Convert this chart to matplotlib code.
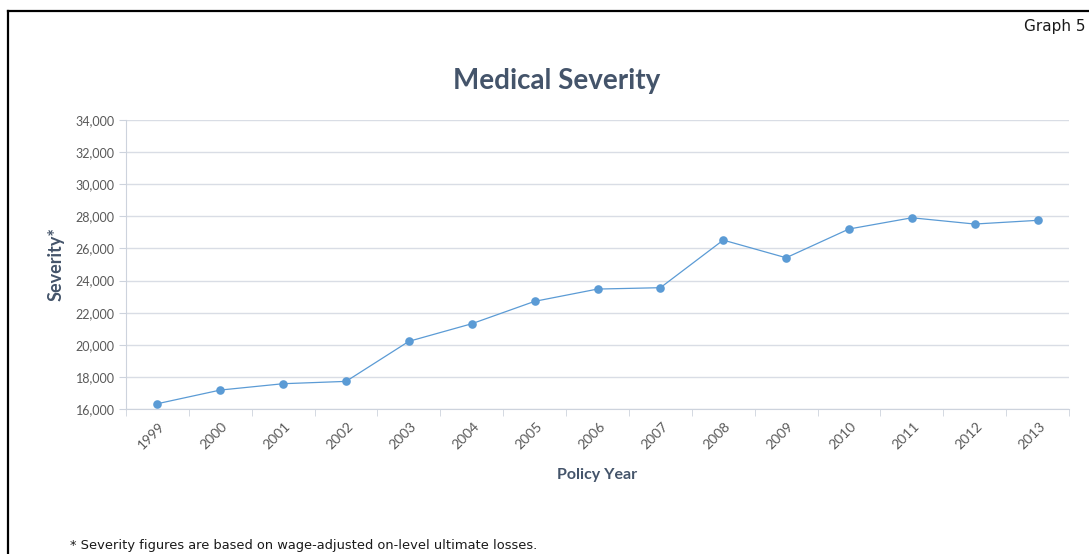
import numpy as np
import matplotlib.pyplot as plt
import matplotlib.transforms as mtransforms
from matplotlib.lines import Line2D

#%% data
years = ['1999', '2000', '2001', '2002', '2003', '2004', '2005', '2006',
         '2007', '2008', '2009', '2010', '2011', '2012', '2013']
severity = [16330, 17180, 17575, 17720, 20215, 21310, 22705, 23470,
            23555, 26520, 25420, 27210, 27910, 27520, 27750]
yticks = [16000, 18000, 20000, 22000, 24000, 26000, 28000, 30000, 32000, 34000]

#%% styling
lineBlue = '#5B9BD5'
textDark = '#44546A'
tickText = '#595959'
gridCol = '#D9DDE5'
axisCol = '#CDD3DD'

plt.rcParams['font.family'] = ['Lato', 'DejaVu Sans']

fig = plt.figure(figsize=(10.89, 5.54), dpi=100)
ax = fig.add_axes([126/1089, 1 - 409/554, (1069-126)/1089, (409-120)/554])

x = np.arange(len(years))
ax.plot(x, severity, color=lineBlue, lw=0.9, marker='o', ms=6.2,
        markeredgewidth=0, zorder=3)

ax.set_xlim(-0.5, len(years) - 0.5)
ax.set_ylim(16000, 34000)
ax.set_yticks(yticks)
ax.set_yticklabels([f'{v:,}' for v in yticks], fontsize=9, color=tickText)
ax.set_xticks(x)
ax.set_xticklabels(years, rotation=45, fontsize=10, color=tickText,
                   ha='center', va='top')
ax.tick_params(axis='x', length=0, pad=8)
ax.tick_params(axis='y', length=5, color=axisCol, pad=3)

# nudge the rotated year labels a little left
shift = mtransforms.ScaledTranslation(-6/100, 0, fig.dpi_scale_trans)
for lab in ax.get_xticklabels():
    lab.set_transform(lab.get_transform() + shift)

# tick marks between categories on the x axis
ax.set_xticks(np.arange(-0.5, len(years)), minor=True)
ax.tick_params(axis='x', which='minor', length=5, color=axisCol)

ax.grid(axis='y', color=gridCol, lw=1)
ax.set_axisbelow(True)
for side in ['top', 'right']:
    ax.spines[side].set_visible(False)
ax.spines['left'].set_color(axisCol)
ax.spines['bottom'].set_color(axisCol)

ax.set_ylabel('Severity*', fontsize=13, fontweight='bold', color=textDark,
              labelpad=8)
ax.set_xlabel('Policy Year', fontsize=11.5, fontweight='bold', color=textDark,
              labelpad=12)

fig.text(557/1089, 1 - 81/554, 'Medical Severity', fontsize=20,
         fontweight='bold', color=textDark, ha='center', va='center')
fig.text(1085/1089, 1 - 27/554, 'Graph 5', fontsize=11, color='#1a1a1a',
         family='DejaVu Sans', ha='right', va='center')
fig.text(70/1089, 1 - 545/554,
         '* Severity figures are based on wage-adjusted on-level ultimate losses.',
         fontsize=9.4, color='#1a1a1a', family='DejaVu Sans', ha='left',
         va='center')

# frame around the page
fig.add_artist(Line2D([8/1089, 8/1089], [0, 1 - 11/554], color='black',
                      lw=1.6, transform=fig.transFigure))
fig.add_artist(Line2D([8/1089, 1], [1 - 11/554, 1 - 11/554], color='black',
                      lw=1.6, transform=fig.transFigure))

fig.savefig('out.png', dpi=100)
